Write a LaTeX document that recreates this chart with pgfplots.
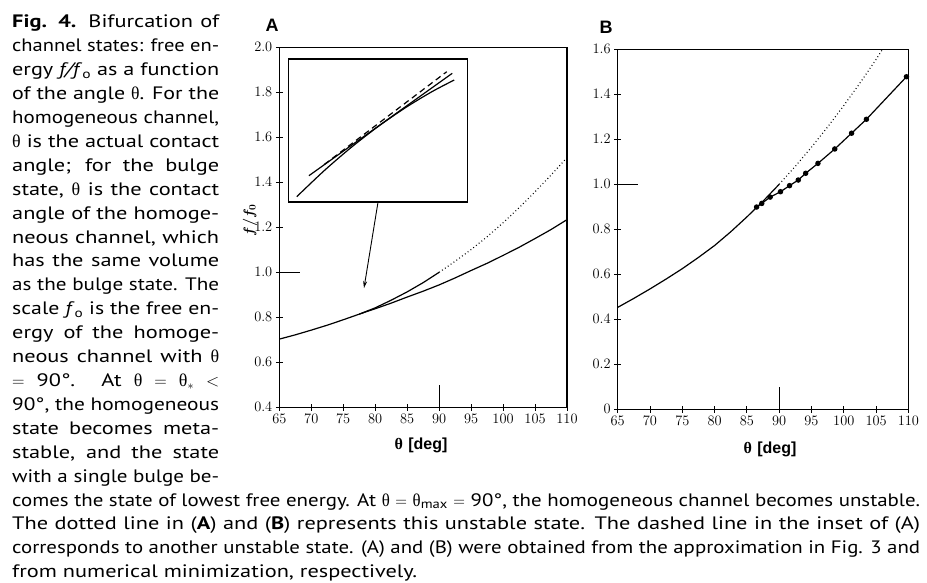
\documentclass[border=0pt]{standalone}
\usepackage{fontspec}
\setmainfont{PT Sans}[FakeStretch=1.24]
\newfontfamily\lsans{Liberation Sans}
\newfontfamily\lserif{Liberation Serif}
\usepackage{amsmath}
\usepackage{graphicx}
\usepackage{pgfplots}
\pgfplotsset{compat=1.18}
\usetikzlibrary{arrows.meta}

% one caption line, justified to a given width
\newlength\natw
\newcommand\jline[2]{\settowidth\natw{#2}\ifdim\natw<#1\relax\makebox[#1][s]{#2}\else\resizebox{#1}{\height}{#2}\fi}
\newcommand\capfont{\fontsize{18}{21}\selectfont}
\newcommand\thet{{\lserif θ}}

\pgfplotsset{
  panel/.style={
    scale only axis, anchor=south west,
    xmin=65, xmax=110, xtick={65,70,...,110},
    axis line style={line width=1.3pt},
    tick style={black, line width=1pt},
    major tick length=7pt, tick align=center, tick pos=left,
    tick label style={font=\fontsize{14}{16}\selectfont},
    xlabel={{\lserif\bfseries θ} \lsans\bfseries [deg]},
    xlabel style={font=\fontsize{16}{18}\selectfont, anchor=center},
  },
  curve/.style={black, line width=1.2pt, no marks},
  unstable/.style={black, line width=1.1pt, no marks, dash pattern=on 0.9pt off 2.6pt},
}

\begin{document}
\begin{tikzpicture}[x=1pt, y=1pt]
\fill[white] (0,0) rectangle (927,582);
\path[use as bounding box] (0,0) rectangle (927,582);

% ---- caption text ----
\begin{scope}[every node/.style={anchor=base west, inner sep=0pt, font=\capfont}]
\node at (12,554.0) {\jline{207pt}{\textbf{Fig. 4.} Bifurcation of}};
\node at (12,530.1) {\jline{207pt}{channel states: free en-}};
\node at (12,506.2) {\jline{207pt}{ergy \textit{f/f}\textsubscript{o} as a function}};
\node at (12,482.3) {\jline{207pt}{of the angle \thet. For the}};
\node at (12,458.4) {\jline{207pt}{homogeneous channel,}};
\node at (12,434.5) {\jline{207pt}{\thet{} is the actual contact}};
\node at (12,410.6) {\jline{207pt}{angle; for the bulge}};
\node at (12,386.7) {\jline{207pt}{state, \thet{} is the contact}};
\node at (12,362.8) {\jline{207pt}{angle of the homoge-}};
\node at (12,338.9) {\jline{207pt}{neous channel, which}};
\node at (12,315.0) {\jline{207pt}{has the same volume}};
\node at (12,291.1) {\jline{207pt}{as the bulge state. The}};
\node at (12,267.2) {\jline{207pt}{scale \textit{f}\textsubscript{o} is the free en-}};
\node at (12,243.3) {\jline{207pt}{ergy of the homoge-}};
\node at (12,219.4) {\jline{207pt}{neous channel with \thet}};
\node at (12,195.5) {\jline{207pt}{$=$ 90°. At \thet{} $=$ \thet\textsubscript{$*$} $<$}};
\node at (12,171.6) {\jline{207pt}{90°, the homogeneous}};
\node at (12,147.7) {\jline{207pt}{state becomes meta-}};
\node at (12,123.8) {\jline{207pt}{stable, and the state}};
\node at (12,99.9) {\jline{207pt}{with a single bulge be-}};
\node at (12,76.0) {\jline{908pt}{comes the state of lowest free energy. At \thet{} $=$ \thet\textsubscript{max} $=$ 90°, the homogeneous channel becomes unstable.}};
\node at (12,52.1) {\jline{908pt}{The dotted line in (\textbf{A}) and (\textbf{B}) represents this unstable state. The dashed line in the inset of (A)}};
\node at (12,28.2) {\jline{908pt}{corresponds to another unstable state. (A) and (B) were obtained from the approximation in Fig. 3 and}};
\node at (12,4.3) {from numerical minimization, respectively.};
\end{scope}

% ---- panel A ----
\begin{axis}[panel, at={(279.3pt,174.7pt)}, width=287.7pt, height=360pt,
  ymin=0.4, ymax=2.0, ytick={0.4,0.6,0.8,1.0,1.2,1.4,1.6,1.8,2.0},
  yticklabel style={/pgf/number format/.cd, fixed, zerofill, precision=1},
  xlabel style={at={(axis description cs:0.4925,-0.105)}},
  ylabel={$\boldsymbol{f/f_0}$},
  ylabel style={at={(axis description cs:-0.102,0.52)}, anchor=center, font=\fontsize{14}{16}\selectfont},
]
% homogeneous channel, stable part
\addplot[curve] coordinates {
  (65,0.703) (67.5,0.722) (70,0.743) (72.5,0.765) (75,0.789) (77.5,0.814)
  (80,0.842) (82.5,0.876) (85,0.913) (87.5,0.954) (90,1.000)
};
% homogeneous channel, unstable part
\addplot[unstable] coordinates {
  (90,1.000) (92.5,1.049) (95,1.101) (97.5,1.158) (100,1.220)
  (102.5,1.287) (105,1.358) (107.5,1.432) (110,1.510)
};
% single bulge state
\addplot[curve] coordinates {
  (77.5,0.814) (80,0.838) (82.5,0.863) (85,0.890) (87.5,0.916) (90,0.944)
  (92.5,0.975) (95,1.008) (97.5,1.040) (100,1.075) (102.5,1.111)
  (105,1.150) (107.5,1.190) (110,1.234)
};
% reference marks
\draw[line width=1.2pt] (axis cs:65,1.0) -- (axis cs:68.3,1.0);
\draw[line width=1.2pt] (axis cs:90,0.4) -- (axis cs:90,0.5);
\draw[line width=0.9pt, -{Stealth[length=7pt, width=4pt]}] (axis cs:80.44,1.312) -- (axis cs:78.25,0.93);
\end{axis}

% ---- inset of A ----
\begin{axis}[at={(288.3pt,380pt)}, anchor=south west, scale only axis,
  width=179.4pt, height=143pt, xmin=0, xmax=1, ymin=0, ymax=1,
  ticks=none, axis line style={line width=1.3pt}]
\addplot[curve, smooth] coordinates {
  (0.047,0.037) (0.2,0.219) (0.35,0.381) (0.5,0.527) (0.65,0.657) (0.8,0.771) (0.925,0.853)
};
\addplot[curve] coordinates {(0.115,0.184) (0.914,0.900)};
\addplot[black, line width=1.2pt, dash pattern=on 6pt off 4pt] coordinates {(0.20,0.262) (0.883,0.911)};
\end{axis}

% ---- panel B ----
\begin{axis}[panel, at={(617.7pt,172.7pt)}, width=290.7pt, height=360pt,
  ymin=0, ymax=1.6, ytick={0,0.2,0.4,0.6,0.8,1.0,1.2,1.4,1.6},
  yticklabels={$0$,$0.2$,$0.4$,$0.6$,$0.8$,$1.0$,$1.2$,$1.4$,$1.6$},
  xlabel style={at={(axis description cs:0.524,-0.110)}},
]
\addplot[curve] coordinates {
  (65,0.453) (67.5,0.493) (70,0.535) (72.5,0.579) (75,0.625) (77.5,0.675)
  (80,0.728) (82.5,0.789) (85,0.855) (87.5,0.925) (90,1.000)
};
\addplot[unstable] coordinates {
  (90,1.000) (92.5,1.080) (95,1.165) (97.5,1.255) (100,1.350)
  (102.5,1.450) (105,1.555) (106,1.600)
};
\addplot[black, line width=1.2pt, mark=*, mark size=2.1pt] coordinates {
  (86.5,0.899) (87.3,0.915) (88.6,0.943) (90.2,0.967) (91.6,0.994)
  (92.95,1.019) (94.1,1.049) (96.0,1.093) (98.6,1.157) (101.2,1.227)
  (103.5,1.289) (109.7,1.478)
};
\draw[line width=1.2pt] (axis cs:65,1.0) -- (axis cs:68.2,1.0);
\draw[line width=1.2pt] (axis cs:90,0) -- (axis cs:90,0.1);
\end{axis}

% panel letters
\node[font=\lsans\bfseries\fontsize{18}{20}\selectfont] at (272,557) {A};
\node[font=\lsans\bfseries\fontsize{18}{20}\selectfont] at (606,555) {B};
\end{tikzpicture}
\end{document}
